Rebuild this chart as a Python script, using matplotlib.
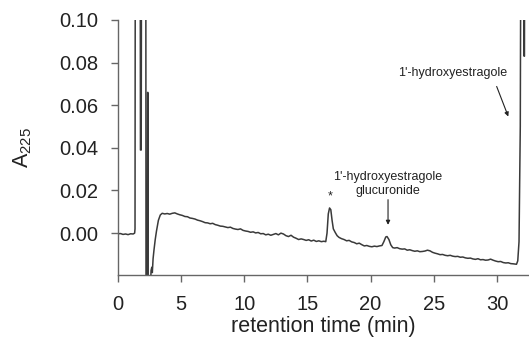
import matplotlib.pyplot as plt

# chromatogram trace (retention time in min, absorbance at 225 nm)
time = [0.0, 0.2, 0.4, 0.6, 0.8, 1.0, 1.2, 1.32, 1.35, 1.38, 1.75, 1.78, 1.84, 1.88,
        2.2, 2.22, 2.32, 2.35, 2.37, 2.39, 2.55, 2.62, 2.68, 2.72, 2.78, 2.85, 2.95,
        3.05, 3.2, 3.35, 3.5, 3.7, 3.9, 4.1, 4.3, 4.5, 4.7, 4.9, 5.1, 5.3, 5.5, 5.7,
        5.9, 6.1, 6.3, 6.5, 6.7, 6.9, 7.1, 7.3, 7.5, 7.7, 7.9, 8.1, 8.3, 8.5, 8.7,
        8.9, 9.1, 9.3, 9.5, 9.7, 9.9, 10.1, 10.3, 10.5, 10.7, 10.9, 11.1, 11.3, 11.5,
        11.7, 11.9, 12.1, 12.3, 12.5, 12.7, 12.9, 13.1, 13.3, 13.5, 13.7, 13.9, 14.1,
        14.3, 14.5, 14.7, 14.9, 15.1, 15.3, 15.5, 15.7, 15.9, 16.1, 16.3, 16.45, 16.55,
        16.65, 16.75, 16.85, 16.95, 17.05, 17.2, 17.35, 17.5, 17.7, 17.9, 18.1, 18.3,
        18.5, 18.7, 18.9, 19.1, 19.3, 19.5, 19.7, 19.9, 20.1, 20.3, 20.5, 20.7, 20.9,
        21.05, 21.2, 21.3, 21.45, 21.6, 21.75, 21.9, 22.1, 22.3, 22.5, 22.7, 22.9,
        23.1, 23.3, 23.5, 23.7, 23.9, 24.1, 24.3, 24.5, 24.7, 24.9, 25.1, 25.3, 25.5,
        25.7, 25.9, 26.1, 26.3, 26.5, 26.7, 26.9, 27.1, 27.3, 27.5, 27.7, 27.9, 28.1,
        28.3, 28.5, 28.7, 28.9, 29.1, 29.3, 29.5, 29.7, 29.9, 30.1, 30.3, 30.5, 30.7,
        30.9, 31.1, 31.3, 31.55, 31.65, 31.75, 31.85, 31.92, 32.12, 32.15, 32.18,
        32.21, 32.6]
absorbance = [-0.0003, -0.0002, -0.0006, -0.0004, -0.0007, -0.0003, -0.0004, 0.0, 0.002,
              0.2, 0.2, 0.039, 0.039, 0.2,
              0.2, -0.03, -0.03, 0.066, 0.066, -0.03, -0.03, -0.0175, -0.016, -0.0185,
              -0.012, -0.008, -0.003,
              0.001, 0.006, 0.0085, 0.0093, 0.0090, 0.0092, 0.0089, 0.0093, 0.0095,
              0.0090, 0.0086, 0.0083, 0.0078, 0.0077, 0.0071,
              0.0069, 0.0066, 0.0061, 0.0058, 0.0054, 0.0049, 0.0048, 0.0044, 0.0046,
              0.0040, 0.0037, 0.0033, 0.0032, 0.0029, 0.0026,
              0.0028, 0.0022, 0.0019, 0.0017, 0.0020, 0.0013, 0.0010, 0.0008, 0.0004,
              0.0006, 0.0001, 0.0003, -0.0003, -0.0002,
              -0.0008, -0.0005, -0.0010, -0.0006, -0.0002, -0.0008, 0.0000, -0.0004,
              -0.0012, -0.0016, -0.0010, -0.0019, -0.0024,
              -0.0030, -0.0027, -0.0030, -0.0034, -0.0031, -0.0037, -0.0033, -0.0039,
              -0.0036, -0.0040, -0.0038, -0.0040, 0.0,
              0.009, 0.0118, 0.0110, 0.006, 0.002, 0.0003, -0.0012, -0.0020, -0.0026,
              -0.0030, -0.0036, -0.0034,
              -0.0041, -0.0044, -0.0050, -0.0047, -0.0054, -0.0060, -0.0058, -0.0062,
              -0.0064, -0.0061, -0.0063, -0.0060, -0.0058,
              -0.0040, -0.0018, -0.0016, -0.0030, -0.0055, -0.0068, -0.0070, -0.0068,
              -0.0073, -0.0075, -0.0074, -0.0080,
              -0.0078, -0.0082, -0.0085, -0.0083, -0.0087, -0.0086, -0.0084, -0.0080,
              -0.0083, -0.0090, -0.0094, -0.0097, -0.0101,
              -0.0100, -0.0104, -0.0106, -0.0104, -0.0108, -0.0110, -0.0109, -0.0113,
              -0.0112, -0.0116, -0.0118, -0.0117, -0.0121,
              -0.0123, -0.0120, -0.0125, -0.0124, -0.0127, -0.0126, -0.0122, -0.0127,
              -0.0131, -0.0134, -0.0133, -0.0138, -0.0140,
              -0.0139, -0.0143, -0.0144, -0.0146, -0.0130, -0.004, 0.05, 0.2, 0.2,
              0.083, 0.083, 0.2, 0.2]

y_ticks = [0.00, 0.02, 0.04, 0.06, 0.08, 0.10]
x_ticks = [0, 5, 10, 15, 20, 25, 30]

plt.rcParams['font.family'] = ['Liberation Sans', 'DejaVu Sans']
plt.rcParams['mathtext.fontset'] = 'custom'
plt.rcParams['mathtext.rm'] = 'Liberation Sans'
plt.rcParams['mathtext.it'] = 'Liberation Sans'

fig = plt.figure(figsize=(5.29, 3.38), dpi=100)
ax = fig.add_axes([0.223, 0.186, 0.777, 0.755])

ax.plot(time, absorbance, color='#3a3a3a', lw=1.1)

ax.set_xlim(0, 32.54)
ax.set_ylim(-0.0197, 0.10)
ax.set_xticks(x_ticks)
ax.set_yticks(y_ticks)
ax.set_yticklabels(['{:.2f}'.format(v) for v in y_ticks])

for side in ['top', 'right']:
    ax.spines[side].set_visible(False)
for side in ['left', 'bottom']:
    ax.spines[side].set_color('#666666')
    ax.spines[side].set_linewidth(1.0)
ax.tick_params(direction='out', length=5, width=1.0, color='#666666',
               labelsize=14.5, labelcolor='#222222', pad=9)

ax.set_xlabel('retention time (min)', fontsize=15.5, color='#222222', labelpad=2)
ax.set_ylabel('A$_{225}$', fontsize=15.5, color='#222222', labelpad=18)

# peak annotations
ax.text(16.82, 0.0172, '*', ha='center', va='center', fontsize=9, color='#222222')
ax.text(21.38, 0.0231, "1'-hydroxyestragole\nglucuronide", ha='center', va='center',
        fontsize=9, color='#222222', linespacing=1.2)
ax.annotate('', xy=(21.38, 0.0039), xytext=(21.38, 0.0157),
            arrowprops=dict(arrowstyle='-|>', color='#222222', lw=0.8,
                            mutation_scale=6, shrinkA=0, shrinkB=0))
ax.text(26.53, 0.0753, "1'-hydroxyestragole", ha='center', va='center',
        fontsize=9, color='#222222')
ax.annotate('', xy=(30.9, 0.0547), xytext=(29.98, 0.0688),
            arrowprops=dict(arrowstyle='-|>', color='#222222', lw=0.8,
                            mutation_scale=6, shrinkA=0, shrinkB=0))

fig.savefig('out.png', dpi=100)
